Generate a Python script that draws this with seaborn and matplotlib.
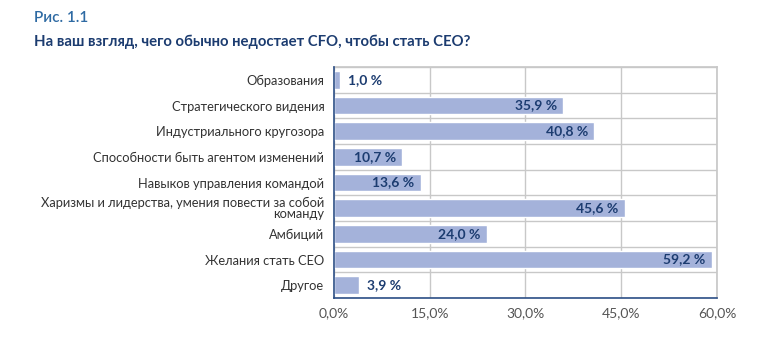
import numpy as np
import pandas as pd
import matplotlib
matplotlib.use("Agg")
import matplotlib.pyplot as plt
import seaborn as sns


categories = [
	"Образования",
	"Стратегического видения",
	"Индустриального кругозора",
	"Способности быть агентом изменений",
	"Навыков управления командой",
	"Харизмы и лидерства, умения повести за собой\nкоманду",
	"Амбиций",
	"Желания стать СЕО",
	"Другое",
]
values = [1.0, 35.9, 40.8, 10.7, 13.6, 45.6, 24.0, 59.2, 3.9]
x_ticks = [0, 15, 30, 45, 60]
x_tick_labels = ["0,0%", "15,0%", "30,0%", "45,0%", "60,0%"]

BAR = "#a4b2da"
NAVY = "#1c3c70"
AXIS = "#2c4f86"
GRID = "#c8c8c8"
FONT = ["Lato", "DejaVu Sans"]


def draw_chart() -> None:
	df = pd.DataFrame({"cat": categories, "val": values})
	fig = plt.figure(figsize=(7.58, 3.51), dpi=100)
	ax = fig.add_axes([0.4406, 0.151, 0.5053, 0.658])
	sns.barplot(data=df, y="cat", x="val", color=BAR, saturation=1,
		width=0.68, orient="h", ax=ax, zorder=2)

	ax.set_xlim(0, 60)
	ax.set_ylim(len(categories) - 0.5, -0.5)
	ax.set_xticks(x_ticks)
	ax.set_xticklabels(x_tick_labels, color="#555555", fontsize=10,
		family=FONT)
	ax.set_yticks(range(len(categories)))
	ax.set_yticklabels(categories, fontsize=9.3, color="#333333",
		family=FONT, linespacing=0.85)
	ax.set_yticks(np.arange(-0.5, len(categories), 1.0), minor=True)
	ax.set_xlabel("")
	ax.set_ylabel("")

	ax.grid(axis="x", which="major", color=GRID, lw=1, zorder=0)
	ax.grid(axis="y", which="minor", color=GRID, lw=1, zorder=0)
	ax.grid(axis="y", which="major", visible=False)
	ax.tick_params(axis="y", which="major", length=0, pad=7)
	ax.tick_params(axis="y", which="minor", length=3, width=3,
		direction="inout", color=AXIS)
	ax.tick_params(axis="x", which="major", length=3, width=3,
		direction="inout", color=AXIS, pad=5)

	for side in ["top", "right"]:
		ax.spines[side].set_color(GRID)
	for side in ["left", "bottom"]:
		ax.spines[side].set_color(AXIS)
		ax.spines[side].set_linewidth(1.2)
		ax.spines[side].set_zorder(3)

	for i, v in enumerate(values):
		txt = f"{v:.1f} %".replace(".", ",")
		if v < 5:
			ax.text(v + 1.2, i, txt, va="center", ha="left", color=NAVY,
				fontsize=10, fontweight="bold", family=FONT, zorder=4)
		else:
			ax.text(v - 1.0, i, txt, va="center", ha="right", color=NAVY,
				fontsize=10, fontweight="bold", family=FONT, zorder=4)

	fig.text(34 / 758, 1 - 18 / 351, "Рис. 1.1", color="#2e6aa3",
		fontsize=11, fontweight="semibold", family=FONT, va="center")
	fig.text(34 / 758, 1 - 42 / 351,
		"На ваш взгляд, чего обычно недостает CFO, чтобы стать CEO?",
		color=NAVY, fontsize=10.7, fontweight="bold", family=FONT,
		va="center")

	fig.savefig("out.png", dpi=100, facecolor="white")
	plt.close(fig)


def main():
	sns.set_theme(style="white")
	draw_chart()


if __name__ == "__main__":
	main()
